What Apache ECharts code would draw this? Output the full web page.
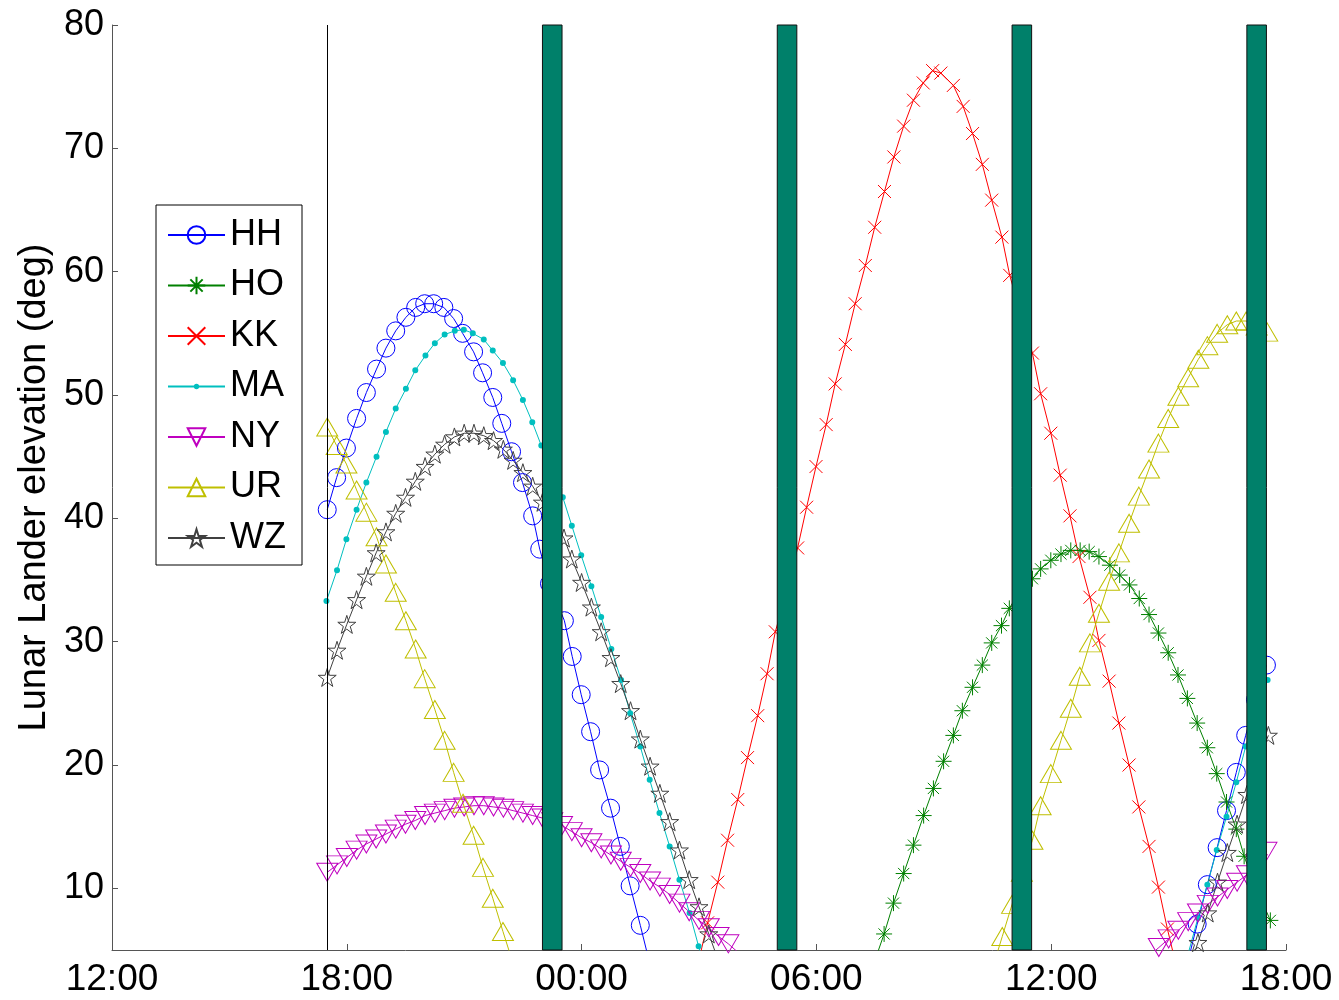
<!DOCTYPE html>
<html>
<head>
<meta charset="utf-8">
<script src="https://cdn.jsdelivr.net/npm/echarts@6/dist/echarts.min.js"></script>
<style>
  html, body { margin: 0; padding: 0; background: #fff; }
  #chart { width: 1339px; height: 1000px; }
</style>
</head>
<body>
<div id="chart"></div>
<script>
// x values are hours after 12:00 on the first day
const xTickLabels = ['12:00', '18:00', '00:00', '06:00', '12:00', '18:00']
const yTickValues = [10, 20, 30, 40, 50, 60, 70, 80]
const startLine = 5.5
const gapStart = [11.0, 17.0, 23.0, 29.0]
const gapEnd = [11.5, 17.5, 23.5, 29.5]

// null = break in the track
const HH = [[5.50,40.7],[5.74,43.3],[5.99,45.7],[6.25,48.1],[6.50,50.2],[6.76,52.1],[7.00,53.8],[7.25,55.2],[7.51,56.3],[7.76,57.1],[7.99,57.4],[8.22,57.4],[8.48,57.1],[8.73,56.2],[8.96,55.0],[9.24,53.5],[9.47,51.8],[9.73,49.8],[9.96,47.7],[10.21,45.4],[10.49,42.9],[10.75,40.2],[10.93,37.5],[11.18,34.7],[11.56,31.7],[11.76,28.8],[11.99,25.7],[12.23,22.7],[12.46,19.6],[12.74,16.5],[12.99,13.4],[13.24,10.2],[13.50,7.0],[13.75,3.8],
  null,[27.48,3.9],[27.73,7.1],[27.99,10.3],[28.24,13.3],[28.48,16.3],[28.73,19.4],[28.97,22.4],[29.22,25.3],[29.50,28.1]]
const HO = [[19.50,4.2],[19.73,6.3],[19.97,8.8],[20.23,11.2],[20.48,13.5],[20.74,15.9],[20.99,18.1],[21.25,20.3],[21.50,22.4],[21.73,24.4],[21.99,26.3],[22.24,28.1],[22.48,29.9],[22.73,31.3],[22.93,32.7],[23.22,34.2],[23.52,35.1],[23.73,35.9],[23.99,36.6],[24.25,37.1],[24.50,37.4],[24.74,37.4],[24.97,37.3],[25.22,36.9],[25.50,36.2],[25.75,35.4],[26.00,34.6],[26.25,33.5],[26.50,32.2],[26.74,30.7],[26.99,29.1],[27.24,27.3],[27.48,25.4],[27.73,23.4],[27.99,21.4],[28.23,19.3],[28.48,17.0],[28.73,14.8],[28.93,12.6],[29.20,10.3],[29.60,7.4]]
const KK = [[14.97,3.8],[15.22,7.2],[15.48,10.5],[15.73,13.9],[15.99,17.2],[16.24,20.6],[16.50,24.0],[16.74,27.4],[16.95,30.8],[17.25,34.2],[17.52,37.6],[17.75,40.9],[17.99,44.2],[18.25,47.6],[18.48,50.9],[18.74,54.1],[18.99,57.4],[19.25,60.5],[19.49,63.6],[19.74,66.5],[19.98,69.3],[20.23,71.8],[20.48,73.9],[20.73,75.3],[20.97,76.3],[21.18,76.1],[21.50,75.1],[21.75,73.4],[21.99,71.2],[22.24,68.7],[22.48,65.8],[22.74,62.8],[22.94,59.7],[23.22,56.6],[23.52,53.4],[23.73,50.1],[23.99,46.9],[24.23,43.5],[24.48,40.2],[24.71,36.9],[24.99,33.6],[25.22,30.1],[25.48,26.8],[25.73,23.4],[25.99,20.0],[26.24,16.6],[26.50,13.4],[26.74,10.1],[26.97,6.7],[27.22,3.4]]
const MA = [[5.48,33.3],[5.75,35.8],[5.99,38.3],[6.25,40.7],[6.50,42.9],[6.76,45.0],[7.00,47.0],[7.25,48.9],[7.51,50.5],[7.75,52.0],[8.01,53.2],[8.25,54.2],[8.50,54.9],[8.76,55.2],[8.99,55.3],[9.22,55.0],[9.50,54.5],[9.73,53.6],[9.99,52.6],[10.25,51.2],[10.50,49.6],[10.74,47.8],[10.97,45.9],[11.25,43.8],[11.52,41.7],[11.75,39.4],[11.99,37.0],[12.25,34.5],[12.50,32.0],[12.76,29.4],[13.01,26.9],[13.24,24.2],[13.50,21.5],[13.74,18.8],[13.99,16.1],[14.25,13.4],[14.50,10.7],[14.76,8.0],[14.99,5.3],[15.25,2.6],
  null,[27.50,4.7],[27.75,7.6],[27.99,10.3],[28.23,13.1],[28.48,15.8],[28.73,18.6],[28.97,21.5],[29.22,24.2],[29.53,26.9]]
const NY = [[5.50,11.3],[5.75,11.9],[6.00,12.5],[6.25,13.1],[6.50,13.6],[6.75,14.0],[7.00,14.4],[7.25,14.8],[7.50,15.2],[7.75,15.5],[8.00,15.9],[8.25,16.1],[8.50,16.3],[8.75,16.5],[9.00,16.6],[9.25,16.7],[9.50,16.7],[9.75,16.6],[10.00,16.5],[10.25,16.3],[10.50,16.1],[10.75,15.9],[11.00,15.7],[11.25,15.4],[11.50,15.1],[11.75,14.6],[12.00,14.1],[12.25,13.7],[12.50,13.2],[12.75,12.7],[13.00,12.2],[13.25,11.7],[13.50,11.2],[13.75,10.6],[14.00,10.1],[14.25,9.5],[14.50,8.8],[14.75,8.1],[15.00,7.4],[15.25,6.8],[15.50,6.1],[15.75,5.5],[16.00,4.8],
  null,[26.50,4.5],[26.75,5.2],[27.00,5.9],[27.25,6.6],[27.50,7.3],[27.75,8.0],[28.00,8.7],[28.25,9.3],[28.50,9.9],[28.75,10.5],[29.00,11.1],[29.25,12.0],[29.50,13.0]]
const UR = [[5.50,47.4],[5.74,45.9],[5.99,44.4],[6.25,42.3],[6.50,40.5],[6.76,38.5],[7.00,36.3],[7.25,34.0],[7.51,31.7],[7.76,29.4],[7.99,27.0],[8.25,24.5],[8.50,22.0],[8.73,19.4],[8.97,16.9],[9.24,14.3],[9.48,11.7],[9.73,9.2],[9.99,6.5],[10.25,3.9],
  null,[22.50,3.5],[22.75,6.1],[23.00,8.7],[23.25,11.3],[23.52,13.9],[23.73,16.7],[23.99,19.3],[24.25,22.0],[24.50,24.6],[24.73,27.2],[24.99,29.9],[25.22,32.3],[25.48,34.9],[25.73,37.2],[25.99,39.6],[26.24,41.8],[26.50,44.0],[26.74,46.1],[26.99,48.1],[27.25,49.9],[27.50,51.4],[27.76,52.9],[27.99,54.0],[28.24,55.0],[28.50,55.7],[28.73,56.0],[28.98,56.0],[29.25,55.6],[29.52,55.1]]
const WZ = [[5.50,27.1],[5.75,29.3],[6.00,31.4],[6.25,33.4],[6.50,35.3],[6.75,37.2],[7.00,38.9],[7.25,40.4],[7.50,41.7],[7.75,43.0],[8.00,44.2],[8.25,45.2],[8.50,46.0],[8.75,46.6],[9.00,46.9],[9.25,46.9],[9.50,46.7],[9.75,46.3],[10.00,45.6],[10.25,44.7],[10.50,43.7],[10.75,42.6],[11.00,41.3],[11.25,40.0],[11.55,38.4],[11.75,36.7],[12.00,34.8],[12.25,32.8],[12.50,30.8],[12.75,28.7],[13.00,26.6],[13.25,24.4],[13.50,22.1],[13.75,19.9],[14.00,17.7],[14.25,15.4],[14.50,13.1],[14.75,10.7],[15.00,8.5],[15.25,6.3],[15.50,4.1],
  null,[27.50,3.2],[27.75,5.6],[28.00,8.0],[28.25,10.5],[28.50,12.9],[28.75,15.2],[29.00,17.6],[29.25,20.0],[29.55,22.4]]

const FONT = 'Liberation Sans, Arial, Helvetica, sans-serif'

// marker shapes (matlab style)
const XMARK = 'path://M0,0L10,10M10,0L0,10'
const ASTER = 'path://M5,0L5,10M0,5L10,5M1.5,1.5L8.5,8.5M8.5,1.5L1.5,8.5'
const STAR = 'path://M10,0L12.245,6.91L19.51,6.91L13.633,11.18L15.878,18.09L10,13.82L4.122,18.09L6.367,11.18L0.49,6.91L7.755,6.91Z'
// small dot inside a bigger invisible box so the legend dot stays small
const DOT = 'path://M0,0L0.01,0M10,10L9.99,10M3.5,5A1.5,1.5,0,1,1,6.5,5A1.5,1.5,0,1,1,3.5,5Z'

const fixNulls = arr => arr.map(p => (p === null ? ['-', '-'] : p))

function track(name, data, color, symbol, size, filled, rotate) {
  return {
    name: name,
    type: 'line',
    data: fixNulls(data),
    symbol: symbol,
    symbolSize: size,
    symbolRotate: rotate || 0,
    showSymbol: true,
    showAllSymbol: true,
    connectNulls: false,
    clip: true,
    z: 2,
    lineStyle: { color: color, width: 1 },
    itemStyle: filled
      ? { color: color, borderWidth: 0 }
      : { color: 'transparent', borderColor: color, borderWidth: 1 },
    emphasis: { disabled: true },
  }
}

const chart = echarts.init(document.getElementById('chart'), null, { renderer: 'canvas' })

chart.setOption({
  animation: false,
  backgroundColor: '#fff',
  grid: { left: 112, right: 53, top: 25, bottom: 50 },
  legend: {
    orient: 'vertical',
    left: 156,
    top: 205,
    data: ['HH', 'HO', 'KK', 'MA', 'NY', 'UR', 'WZ'],
    backgroundColor: '#fff',
    borderColor: '#000',
    borderWidth: 1,
    padding: [12, 12, 9, 11],
    itemWidth: 57,
    itemHeight: 22,
    itemGap: 14.5,
    textStyle: { fontSize: 36, lineHeight: 36, color: '#000', fontFamily: FONT, width: 60 },
  },
  xAxis: {
    type: 'value',
    min: 0,
    max: 30,
    interval: 6,
    axisLine: { show: true, onZero: false, lineStyle: { color: '#555', width: 1 } },
    axisTick: { show: true, inside: true, length: 6, lineStyle: { color: '#555' } },
    axisLabel: {
      fontSize: 37, color: '#000', fontFamily: FONT, margin: 11,
      showMinLabel: true, showMaxLabel: true,
      formatter: v => xTickLabels[Math.round(v / 6)],
    },
    splitLine: { show: false },
  },
  yAxis: {
    type: 'value',
    min: 5,
    max: 80,
    name: 'Lunar Lander elevation (deg)',
    nameLocation: 'middle',
    nameGap: 58,
    nameTextStyle: { fontSize: 38, color: '#000', fontFamily: FONT },
    axisLine: { show: true, lineStyle: { color: '#555', width: 1 } },
    axisTick: { show: true, inside: true, length: 6, customValues: yTickValues, lineStyle: { color: '#555' } },
    axisLabel: { fontSize: 36, color: '#000', fontFamily: FONT, margin: 8, customValues: yTickValues },
    splitLine: { show: false },
  },
  series: [
    track('HH', HH, '#0000ff', 'circle', 18, false),
    track('HO', HO, '#008000', ASTER, 16, false),
    track('KK', KK, '#ff0000', XMARK, 13, false),
    track('MA', MA, '#00bfbf', DOT, 20, true),
    track('NY', NY, '#bf00bf', 'triangle', [21, 18], false, 180),
    track('UR', UR, '#bfbf00', 'triangle', [21, 18], false),
    track('WZ', WZ, '#404040', STAR, 18, false),
    {
      // observing gaps, drawn over the tracks
      name: 'gaps',
      type: 'custom',
      z: 5,
      silent: true,
      data: gapStart.map((s, i) => [s, gapEnd[i]]),
      renderItem: (params, api) => {
        const p0 = api.coord([api.value(0), 80])
        const p1 = api.coord([api.value(1), 5])
        return {
          type: 'rect',
          shape: { x: p0[0], y: p0[1], width: p1[0] - p0[0], height: p1[1] - p0[1] },
          style: { fill: '#00806a', stroke: '#111', lineWidth: 1 },
        }
      },
      markLine: {
        silent: true,
        symbol: 'none',
        label: { show: false },
        lineStyle: { color: '#000', width: 1, type: 'solid' },
        data: [{ xAxis: startLine }],
      },
    },
  ],
})
</script>
</body>
</html>
